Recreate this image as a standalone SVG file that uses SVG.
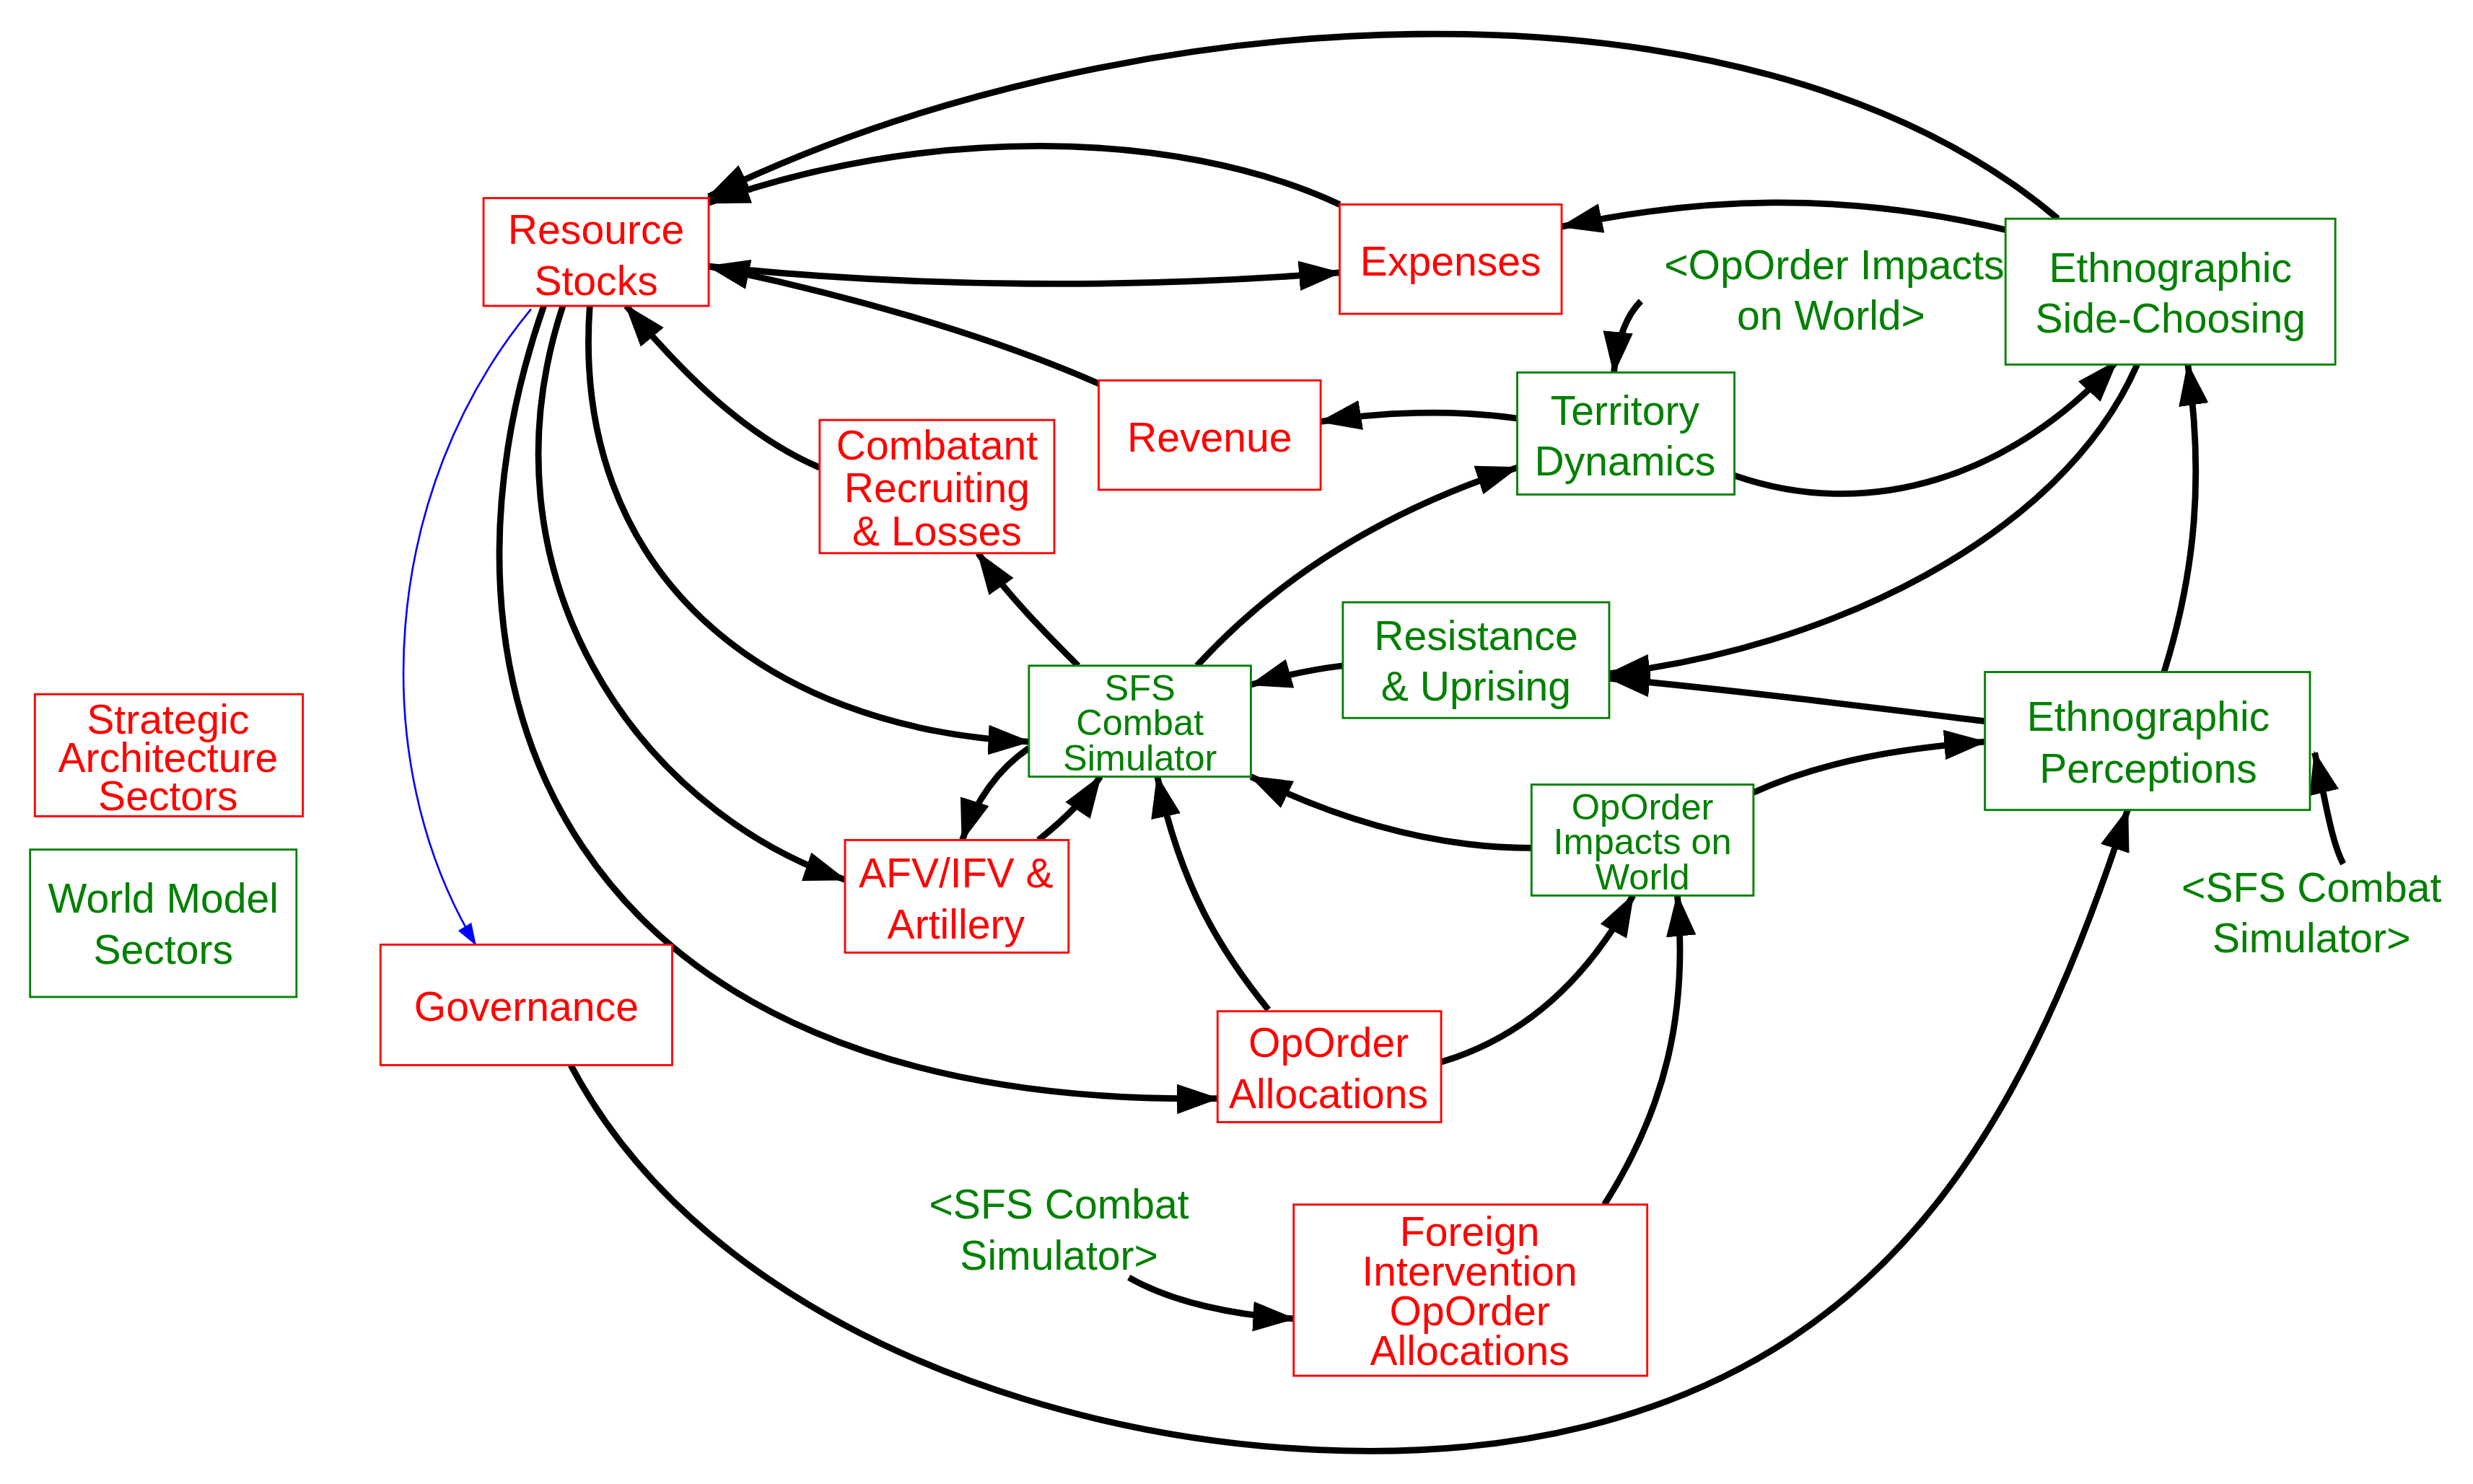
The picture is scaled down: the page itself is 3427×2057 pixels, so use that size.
<svg xmlns="http://www.w3.org/2000/svg" width="3427" height="2057" viewBox="0 0 3427 2057">
<style>
.r rect{fill:#fff;stroke:#f00;stroke-width:1.3}
.g rect{fill:#fff;stroke:#008000;stroke-width:1.3}
.r text{fill:#f00}
.g text,text.g{fill:#008000}
text{font-family:"Liberation Sans",Arial,sans-serif;font-size:26px;text-anchor:middle}
.t text{font-size:23px}
#edges path{fill:none;stroke:#000;stroke-width:4;marker-end:url(#ah)}
#edges path.b{stroke:#00f;stroke-width:1.2;marker-end:url(#ab)}
</style>
<defs>
<marker id="ah" markerUnits="userSpaceOnUse" viewBox="0 0 20 14" refX="19" refY="7" markerWidth="27" markerHeight="19" orient="auto"><path d="M0,0L20,7L0,14z" fill="#000"/></marker>
<marker id="ab" markerUnits="userSpaceOnUse" viewBox="0 0 20 14" refX="19" refY="7" markerWidth="14" markerHeight="10" orient="auto"><path d="M0,0L20,7L0,14z" fill="#00f"/></marker>
</defs>
<rect width="3427" height="2057" fill="#fff"/>
<g transform="scale(2.197)">
<g id="edges">
<path d="M1298,138 C1100,-30 700,0 447,124"/>
<path d="M845,129 C740,80 580,80 447,128"/>
<path d="M447,168 C580,182 720,182 845,172"/>
<path d="M693,242 C620,210 530,185 447,168"/>
<path d="M1265,145 C1160,120 1070,125 985,143"/>
<path d="M1035,190 C1025,200 1020,215 1018,235"/>
<path d="M957,264 C915,258 870,260 833,266"/>
<path d="M1094,300 C1180,330 1270,300 1335,228"/>
<path d="M517,295 C470,275 430,235 395,193"/>
<path d="M372,193 C360,360 480,460 649,468"/>
<path d="M355,193 C300,360 400,510 533,555"/>
<path d="M343,193 C260,430 350,700 768,693"/>
<path class="b" d="M335,195 C240,310 230,480 300,596"/>
<path d="M680,420 C660,400 635,375 617,349"/>
<path d="M755,420 C810,360 880,320 957,295"/>
<path d="M847,420 C830,422 810,426 789,432"/>
<path d="M1348,230 C1300,340 1150,410 1015,425"/>
<path d="M1252,455 C1170,445 1090,435 1015,428"/>
<path d="M1365,424 C1385,360 1390,300 1380,230"/>
<path d="M1106,500 C1150,480 1200,472 1252,468"/>
<path d="M966,535 C900,535 840,515 789,490"/>
<path d="M649,472 C630,485 615,505 607,530"/>
<path d="M655,530 C670,518 684,505 694,490"/>
<path d="M800,637 C770,600 745,560 730,490"/>
<path d="M909,670 C960,655 1000,620 1030,565"/>
<path d="M1012,760 C1050,700 1065,640 1058,565"/>
<path d="M712,806 C740,822 780,830 816,832"/>
<path d="M360,672 C470,880 800,950 1000,900 C1200,850 1280,700 1342,511"/>
<path d="M1478,545 C1470,530 1466,500 1460,475"/>
</g>
<g id="resource-stocks" class="r"><rect x="305" y="125" width="142" height="68"/><text x="376" y="154">Resource</text><text x="376" y="186">Stocks</text></g>
<g id="expenses" class="r"><rect x="845" y="129" width="140" height="69"/><text x="915" y="174">Expenses</text></g>
<g id="revenue" class="r"><rect x="693" y="240" width="140" height="69"/><text x="763" y="285">Revenue</text></g>
<g id="combatant" class="r"><rect x="517" y="265" width="148" height="84"/><text x="591" y="290">Combatant</text><text x="591" y="317">Recruiting</text><text x="591" y="344">&amp; Losses</text></g>
<g id="territory" class="g"><rect x="957" y="235" width="137" height="77"/><text x="1025" y="268">Territory</text><text x="1025" y="300">Dynamics</text></g>
<g id="side-choosing" class="g"><rect x="1265" y="138" width="208" height="92"/><text x="1369" y="178">Ethnographic</text><text x="1369" y="210">Side-Choosing</text></g>
<text id="oiw-shadow" class="g" x="1157" y="176">&lt;OpOrder Impacts</text>
<text class="g" x="1155" y="208">on World&gt;</text>
<g id="resistance" class="g"><rect x="847" y="380" width="168" height="73"/><text x="931" y="410">Resistance</text><text x="931" y="442">&amp; Uprising</text></g>
<g id="sfs" class="g t"><rect x="649" y="420" width="140" height="70"/><text x="719" y="442">SFS</text><text x="719" y="464">Combat</text><text x="719" y="486">Simulator</text></g>
<g id="perceptions" class="g"><rect x="1252" y="424" width="205" height="87"/><text x="1355" y="461">Ethnographic</text><text x="1355" y="494">Perceptions</text></g>
<g id="oiw" class="g t"><rect x="966" y="495" width="140" height="70"/><text x="1036" y="517">OpOrder</text><text x="1036" y="539">Impacts on</text><text x="1036" y="561">World</text></g>
<g id="afv" class="r"><rect x="533" y="530" width="141" height="71"/><text x="603" y="560">AFV/IFV &amp;</text><text x="603" y="592">Artillery</text></g>
<g id="governance" class="r"><rect x="240" y="596" width="184" height="76"/><text x="332" y="644">Governance</text></g>
<g id="oa" class="r"><rect x="768" y="638" width="141" height="70"/><text x="838" y="667">OpOrder</text><text x="838" y="699">Allocations</text></g>
<g id="foreign" class="r"><rect x="816" y="760" width="223" height="108"/><text x="927" y="786">Foreign</text><text x="927" y="811">Intervention</text><text x="927" y="836">OpOrder</text><text x="927" y="861">Allocations</text></g>
<text id="sfs-shadow1" class="g" x="668" y="769">&lt;SFS Combat</text>
<text class="g" x="668" y="801">Simulator&gt;</text>
<text id="sfs-shadow2" class="g" x="1458" y="569">&lt;SFS Combat</text>
<text class="g" x="1458" y="601">Simulator&gt;</text>
<g id="legend-strategic" class="r"><rect x="22" y="438" width="169" height="77"/><text x="106" y="463">Strategic</text><text x="106" y="487">Architecture</text><text x="106" y="511">Sectors</text></g>
<g id="legend-world" class="g"><rect x="19" y="536" width="168" height="93"/><text x="103" y="576">World Model</text><text x="103" y="608">Sectors</text></g>
</g>
</svg>
